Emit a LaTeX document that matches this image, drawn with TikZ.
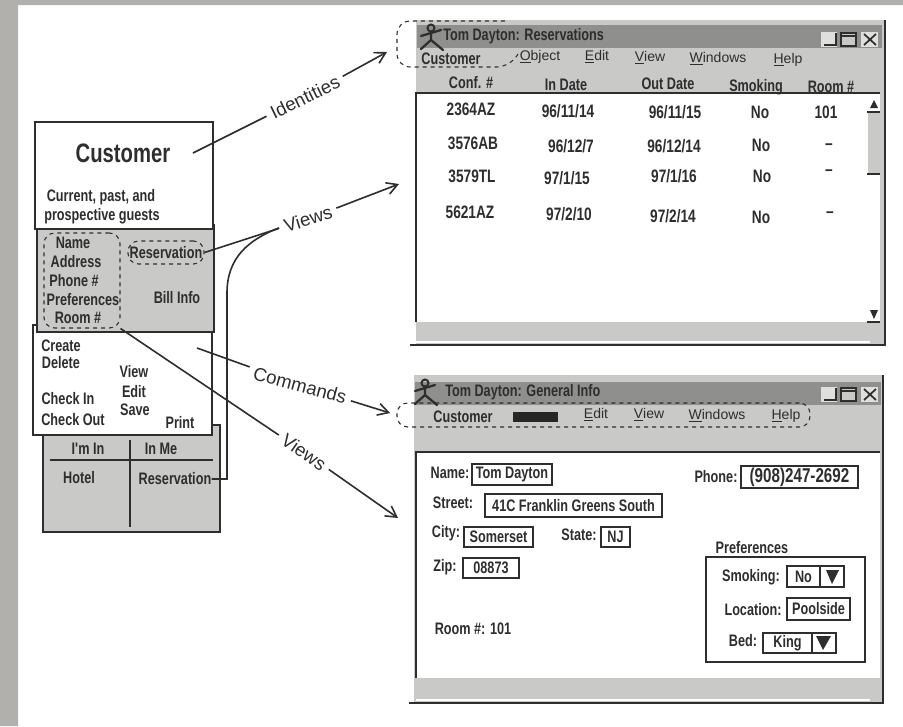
\documentclass[tikz,border=0pt]{standalone}
\usepackage{fontspec}
\setmainfont{Liberation Sans}
\newfontfamily\handfont{Liberation Sans}[FakeStretch=0.76]
\usetikzlibrary{arrows.meta}
\definecolor{inkline}{HTML}{2E2E2E}
\definecolor{scangray}{HTML}{C9C9C7}
\definecolor{titlegray}{HTML}{8F8F8D}
\definecolor{pagegray}{HTML}{B2B0AC}
\tikzset{
    pxbox/.style 2 args={
        minimum width=#1*0.75pt,
        minimum height=#2*0.75pt,
        inner sep=0pt
    },
    classbox/.style={
        draw=inkline,
        line width=1pt
    },
    groupbox/.style={
        draw=inkline,
        dashed,
        line width=0.8pt,
        rounded corners=8pt
    },
    fieldbox/.style={
        draw=inkline,
        line width=1pt,
        fill=white,
        text=inkline,
        font=\handfont\bfseries\fontsize{12.5}{14}\selectfont
    },
    hand/.style={
        text=inkline,
        inner sep=0pt,
        font=\handfont\bfseries\fontsize{12.5}{14}\selectfont
    },
    cell/.style={
        text=inkline,
        inner sep=0pt,
        font=\handfont\bfseries\fontsize{13.5}{15}\selectfont
    },
    menutext/.style={
        text=inkline,
        inner sep=0pt,
        font=\fontsize{10.5}{12}\selectfont
    },
    linklabel/.style={
        text=inkline,
        inner sep=4pt,
        font=\fontsize{14}{16}\selectfont
    },
    link/.style={
        draw=inkline,
        line width=1.2pt
    },
    linkarrow/.style={
        link,
        -{Straight Barb[length=8pt,width=9pt]}
    },
    actor/.pic={
        \draw[inkline, line width=1.5pt] (0,-9) circle[radius=3.5];
        \draw[inkline, line width=1.7pt, line cap=round]
            (-10,-1) -- (10,-7)
            (0,-5) -- (0,3)
            (-10,12) -- (0,3) -- (12,13);
    },
    winbuttons/.pic={
        \fill[scangray!60] (-8,-7) rectangle (8,8);
        \draw[inkline, line width=1pt] (-5,6) -- (7,6) -- (7,-6);
        \draw[inkline, line width=1pt, fill=scangray] (12,-6) rectangle (27,7);
        \draw[inkline, line width=1pt] (12,-3) -- (27,-3);
        \fill[scangray!60] (32,-7) rectangle (49,8);
        \draw[inkline, line width=1.3pt] (35,-5) -- (47,6) (47,-5) -- (35,6);
    }
}
\begin{document}
\begin{tikzpicture}[x=0.75pt,y=-0.75pt]
\useasboundingbox (0,0) rectangle (903,726);
\fill[white] (0,0) rectangle (903,726);
\fill[pagegray] (0,0) rectangle (903,5) (0,0) rectangle (18,726);

\node[classbox, fill=scangray, pxbox={177}{107}] (relbox) at (131.5,478.5) {};
\node[classbox, fill=white, pxbox={179}{110}] (cmdbox) at (122.5,380) {};
\node[classbox, fill=scangray, pxbox={177}{107}] (attrbox) at (125.5,278.5) {};
\node[classbox, fill=white, pxbox={178}{107}] (custbox) at (124,175.5) {};
\draw[inkline, line width=1.2pt] (50,460) -- (213,460) (130,440) -- (130,527);

\node[hand, font=\handfont\bfseries\fontsize{20}{22}\selectfont] (custname) at (123,153) {Customer};
\foreach \nm/\x/\y/\t in {
    custdesc/101/197/{Current, past, and},
    custguests/102/216/{prospective guests}
}
    \node[hand] (\nm) at (\x,\y) {\t};
\foreach \nm/\x/\y/\t in {
    attrname/73/243/Name, attraddr/76/262/Address, attrphone/74/281/{Phone \#},
    attrpref/83/300/Preferences, attrroom/78/318/{Room \#}, attrbill/177/298/{Bill Info},
    cmdcreate/61/346/Create, cmddelete/61/363/Delete, cmdview/134/372/View,
    cmdedit/134/392/Edit, cmdsave/135/410/Save, cmdin/68/399/{Check In},
    cmdout/73/420/{Check Out}, cmdprint/180/423/Print,
    relin/88/449/{I'm In}, relme/161/449/{In Me}, relhotel/79/478/Hotel
}
    \node[hand] (\nm) at (\x,\y) {\t};
\node[hand] (attrres) at (166,253) {Reservation};
\node[hand] (relres) at (175,479) {Reservation};
\node[groupbox, pxbox={76}{95}] (namegroup) at (82,280.5) {};
\node[groupbox, pxbox={76}{23}] (resgroup) at (166,252.5) {};

\fill[scangray] (416,20) rectangle (884,344);
\fill[titlegray] (417,25) rectangle (882,48);
\fill[white] (416,93) rectangle (880,322);
\draw[white, line width=1pt] (416,342) -- (870,342);
\draw[inkline, line width=1.1pt] (416,322) -- (416,93) -- (880,93);
\draw[inkline, line width=1.1pt] (410,345) -- (885,345) -- (885,20);
\fill[scangray] (868,112) rectangle (880,174);
\draw[inkline, line width=1pt] (867,112) -- (880,112) (867,174) -- (880,174) (867,322) -- (880,322);
\fill[inkline] (870,108) -- (878,108) -- (874,100) -- cycle (870,310) -- (878,310) -- (874,319) -- cycle;
\pic at (431,37) {actor};
\pic at (829,39) {winbuttons};
\node[hand, anchor=west] (restitle) at (443,36) {Tom Dayton: Reservations};
\node[hand] (rescust) at (451,59) {Customer};
\foreach \nm/\x/\y/\t in {
    resobject/540/57/{\underline{O}bject}, resedit/597/57/{\underline{E}dit},
    resview/650/58/{\underline{V}iew}, reswin/718/59/{\underline{W}indows},
    reshelp/788/60/{\underline{H}elp}
}
    \node[menutext] (\nm) at (\x,\y) {\t};
\foreach \nm/\x/\y/\t in {
    headconf/471/83/{Conf. \#}, headin/566/85/{In Date}, headout/668/84/{Out Date},
    headsmoke/756/87/Smoking, headroom/831/87/{Room \#}
}
    \node[hand] (\nm) at (\x,\y) {\t};
\foreach \nm/\x/\y/\t in {
    confa/471/109/2364AZ, ina/568/111/{96/11/14}, outa/675/112/{96/11/15}, smokea/760/112/No, rooma/826/112/101,
    confb/473/143/3576AB, inb/571/146/{96/12/7}, outb/674/146/{96/12/14}, smokeb/761/145/No, roomb/829/147/–,
    confc/472/176/3579TL, inc/567/178/{97/1/15}, outc/674/176/{97/1/16}, smokec/762/176/No, roomc/829/173/–,
    confd/470/212/5621AZ, ind/569/214/{97/2/10}, outd/673/216/{97/2/14}, smoked/761/217/No, roomd/830/215/–
}
    \node[cell] (\nm) at (\x,\y) {\t};
\draw[inkline, dashed, line width=0.8pt, rounded corners=10pt]
    (518,54) -- (510,67) -- (397,67) -- (397,21) -- (505,21);
\coordinate (idend) at (387,52);

\fill[scangray] (414,375) rectangle (883,702);
\fill[titlegray] (415,382) rectangle (881,405);
\fill[white] (416,452) rectangle (880,678);
\draw[white, line width=1pt] (416,700) -- (870,700);
\draw[inkline, line width=1.1pt] (416,678) -- (416,452) -- (880,452);
\draw[inkline, line width=1.1pt] (409,703) -- (883,703) -- (883,375);
\pic at (425,392) {actor};
\pic at (829,394) {winbuttons};
\node[hand, anchor=west] (gentitle) at (445,392) {Tom Dayton: General Info};
\node[hand] (gencust) at (463,417) {Customer};
\fill[black!85] (513,412) rectangle (558,422);
\foreach \nm/\x/\y/\t in {
    genedit/596/415/{\underline{E}dit}, genview/649/415/{\underline{V}iew},
    genwin/717/416/{\underline{W}indows}, genhelp/786/416/{\underline{H}elp}
}
    \node[menutext] (\nm) at (\x,\y) {\t};
\node[groupbox, pxbox={413}{24}] (menugroup) at (603.5,415) {};
\foreach \nm/\x/\y/\t in {
    formname/450/473/{Name:}, formstreet/453/503/{Street:}, formcity/446/533/{City:},
    formstate/579/535/{State:}, formzip/445/567/{Zip:}, formphone/716/477/{Phone:},
    formroom/473/629/{Room \#: 101}, formpref/752/548/Preferences,
    formsmoke/751/577/{Smoking:}, formloc/753/610/{Location:}, formbed/743/641/{Bed:}
}
    \node[hand] (\nm) at (\x,\y) {\t};
\node[fieldbox, pxbox={80}{21}] (fieldname) at (512,474.5) {Tom Dayton};
\node[fieldbox, pxbox={177}{23}] (fieldstreet) at (573.5,505.5) {41C Franklin Greens South};
\node[fieldbox, pxbox={69}{20}] (fieldcity) at (498.5,537) {Somerset};
\node[fieldbox, pxbox={29}{20}] (fieldstate) at (615.5,537) {NJ};
\node[fieldbox, pxbox={56}{20}] (fieldzip) at (491,568) {08873};
\node[fieldbox, pxbox={117}{22}, font=\handfont\bfseries\fontsize{15}{16}\selectfont] (fieldphone) at (799.5,477) {(908)247-2692};
\node[classbox, pxbox={159}{105}] (prefbox) at (785.5,609.5) {};
\node[fieldbox, pxbox={33}{21}] (fieldsmoke) at (803.5,576.5) {No};
\node[fieldbox, pxbox={24}{21}] (dropsmoke) at (832,576.5) {};
\node[fieldbox, pxbox={63}{22}] (fieldloc) at (818.5,609) {Poolside};
\node[fieldbox, pxbox={49}{20}] (fieldbed) at (787.5,643) {King};
\node[fieldbox, pxbox={24}{20}] (dropbed) at (824,643) {};
\fill[inkline] (826,570) -- (839,570) -- (832,584) -- cycle (816,636) -- (831,636) -- (823,650) -- cycle;

\node[linklabel, rotate=26] (identities) at (305,97) {Identities};
\node[linklabel, rotate=17] (viewstop) at (308,219) {Views};
\node[linklabel, rotate=-15] (commands) at (300,385) {Commands};
\node[linklabel, rotate=-35] (viewsbot) at (304,452) {Views};
\coordinate (idstart) at (193,153);
\coordinate (cmdstart) at (197,348);
\coordinate (viewstopend) at (399,184);
\coordinate (viewsbotend) at (398,518);
\draw[link] (idstart) -- (identities);
\draw[linkarrow] (identities) -- (idend);
\draw[link] (resgroup.east) -- (viewstop);
\draw[linkarrow] (viewstop) -- (viewstopend);
\draw[link] (relres.east) -- (227,479) -- (227,293) .. controls (227,258) and (248,240) .. (viewstop.west);
\draw[link] (cmdstart) -- (commands);
\draw[linkarrow, shorten >=5pt] (commands) -- (menugroup.west);
\draw[link] (namegroup.south east) -- (viewsbot);
\draw[linkarrow] (viewsbot) -- (viewsbotend);
\end{tikzpicture}
\end{document}
